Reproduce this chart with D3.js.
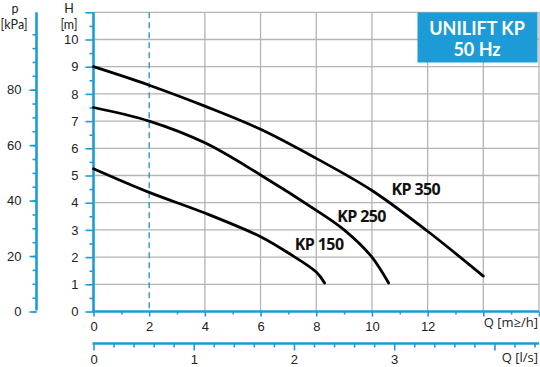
<!DOCTYPE html>
<html><head><meta charset="utf-8">
<script src="https://cdn.jsdelivr.net/npm/d3@7/dist/d3.min.js"></script>
<style>
html,body{margin:0;padding:0;background:#fff;}
svg{display:block;font-family:"Open Sans","Noto Sans",sans-serif;}
</style></head>
<body><svg id="c" width="540" height="367"></svg>
<script>
// ---- data ----
const seriesNames = ["KP 350", "KP 250", "KP 150"];
const q350 = [0, 2, 4, 6, 8, 10, 12, 14];
const h350 = [9.0, 8.32, 7.55, 6.7, 5.63, 4.45, 2.95, 1.3];
const q250 = [0, 2, 4, 6, 8, 9, 10, 10.6];
const h250 = [7.5, 7.0, 6.2, 5.02, 3.72, 3.0, 2.0, 1.05];
const q150 = [0, 2, 4, 6, 7, 8, 8.3];
const h150 = [5.25, 4.38, 3.62, 2.75, 2.15, 1.45, 1.05];
const labelAt = [[10.7, 4.28], [8.75, 3.29], [7.23, 2.25]]; // label anchor (Q, H)
const hTickLabels = [0,1,2,3,4,5,6,7,8,9,10];
const pTickLabels = [0,20,40,60,80];
const qTickLabels = [0,2,4,6,8,10,12];
const lsTickLabels = [0,1,2,3];
const title = ["UNILIFT KP", "50 Hz"];

const BLUE = "#1d9bd6";
const GRID = "#b4b4b4";
const TXT = "#222";

const svg = d3.select("#c");
const x = d3.scaleLinear().domain([0, 16]).range([93.5, 539]);
const y = d3.scaleLinear().domain([0, 11]).range([311.5, 12.3]);
const yP = d3.scaleLinear().domain([0, 11 * 9.81]).range([311.5, 12.3]);
const xL = d3.scaleLinear().domain([0, 16 / 3.6]).range([93.5, 539]);

// grid
const g = svg.append("g");
g.selectAll(".hg").data(d3.range(1, 12)).join("line")
  .attr("x1", x(0)).attr("x2", x(16)).attr("y1", d => y(d)).attr("y2", d => y(d))
  .attr("stroke", GRID).attr("stroke-width", 1.3);
g.selectAll(".vg").data(d3.range(4, 17, 2)).join("line")
  .attr("x1", d => x(d)).attr("x2", d => x(d)).attr("y1", y(11)).attr("y2", y(0))
  .attr("stroke", GRID).attr("stroke-width", 1.3);
g.append("line").attr("x1", x(2)).attr("x2", x(2)).attr("y1", y(11)).attr("y2", y(0))
  .attr("stroke", "#2f97c4").attr("stroke-width", 1.4).attr("stroke-dasharray", "6,4");

function styleAxis(sel, size) {
  sel.select(".domain").remove();
  sel.selectAll(".tick line").attr("stroke", BLUE).attr("stroke-width", 1.6);
  sel.selectAll(".tick text").attr("fill", TXT).style("font-size", size + "px");
}

// H axis
svg.append("g").attr("transform", `translate(${x(0)},0)`)
  .call(d3.axisLeft(y).tickValues(d3.range(0.5, 11, 1)).tickSize(4).tickFormat(""))
  .call(s => styleAxis(s, 13));
svg.append("g").attr("transform", `translate(${x(0)},0)`)
  .call(d3.axisLeft(y).tickValues(d3.range(0, 12)).tickSize(8).tickPadding(7)
    .tickFormat(d => hTickLabels.includes(d) ? d : ""))
  .call(s => styleAxis(s, 13));

// p axis
const pX = 36.5;
svg.append("g").attr("transform", `translate(${pX},0)`)
  .call(d3.axisLeft(yP).tickValues(d3.range(0, 101, 5)).tickSize(4).tickFormat(""))
  .call(s => styleAxis(s, 13));
svg.append("g").attr("transform", `translate(${pX},0)`)
  .call(d3.axisLeft(yP).tickValues(pTickLabels).tickSize(7).tickPadding(8))
  .call(s => styleAxis(s, 13));

// Q m3/h axis
svg.append("g").attr("transform", `translate(0,${y(0)})`)
  .call(d3.axisBottom(x).tickValues(d3.range(1, 17, 2)).tickSize(3).tickFormat(""))
  .call(s => styleAxis(s, 13));
svg.append("g").attr("transform", `translate(0,${y(0)})`)
  .call(d3.axisBottom(x).tickValues(d3.range(0, 17, 2)).tickSize(5).tickPadding(5)
    .tickFormat(d => qTickLabels.includes(d) ? d : ""))
  .call(s => styleAxis(s, 13));

// Q l/s axis
const lsY = 343.5;
svg.append("g").attr("transform", `translate(0,${lsY})`)
  .call(d3.axisBottom(xL).tickValues(d3.range(0, 4.41, 0.2).filter(v => Math.abs(v - Math.round(v)) > 0.01)).tickSize(4).tickFormat(""))
  .call(s => styleAxis(s, 13));
svg.append("g").attr("transform", `translate(0,${lsY})`)
  .call(d3.axisBottom(xL).tickValues([0, 1, 2, 3, 4]).tickSize(7).tickPadding(4)
    .tickFormat(d => lsTickLabels.includes(d) ? d : ""))
  .call(s => styleAxis(s, 13));

// axis lines
svg.append("line").attr("x1", x(0)).attr("x2", x(0)).attr("y1", y(11)).attr("y2", y(0) + 1)
  .attr("stroke", BLUE).attr("stroke-width", 2.6);
svg.append("line").attr("x1", pX).attr("x2", pX).attr("y1", y(11)).attr("y2", y(0) - 1)
  .attr("stroke", BLUE).attr("stroke-width", 2.6);
svg.append("line").attr("x1", x(0) - 1).attr("x2", x(16)).attr("y1", y(0)).attr("y2", y(0))
  .attr("stroke", BLUE).attr("stroke-width", 2.6);
svg.append("line").attr("x1", x(0) - 1).attr("x2", x(16)).attr("y1", lsY).attr("y2", lsY)
  .attr("stroke", BLUE).attr("stroke-width", 2.6);

// axis titles
const t = svg.append("g").attr("fill", TXT).style("font-size", "13px").attr("text-anchor", "middle");
const unitFont = "Lato, 'Open Sans', sans-serif";
t.append("text").attr("x", 15).attr("y", 13).style("font-family", unitFont).style("font-size", "12.5px").text("p");
t.append("text").attr("x", 14).attr("y", 28.5).style("font-family", unitFont).style("font-size", "12.5px").text("[kPa]");
t.append("text").attr("x", 69).attr("y", 13).style("font-family", unitFont).style("font-size", "12.5px").text("H");
t.append("text").attr("x", 69).attr("y", 28.5).style("font-family", unitFont).style("font-size", "12.5px").text("[m]");
t.append("text").attr("x", 538).attr("y", 327).attr("text-anchor", "end").text("Q [m≥/h]");
t.append("text").attr("x", 538).attr("y", 362).attr("text-anchor", "end").text("Q [l/s]");

// curves
const line = d3.line().x(d => x(d[0])).y(d => y(d[1])).curve(d3.curveCatmullRom.alpha(0.5));
const series = [d3.zip(q350, h350), d3.zip(q250, h250), d3.zip(q150, h150)];
svg.append("g").selectAll("path").data(series).join("path")
  .attr("d", line).attr("fill", "none").attr("stroke", "#000")
  .attr("stroke-width", 2.8).attr("stroke-linecap", "round");

svg.append("g").selectAll("text").data(seriesNames).join("text")
  .attr("x", (d, i) => x(labelAt[i][0])).attr("y", (d, i) => y(labelAt[i][1]))
  .attr("fill", "#111").style("font-size", "16px").style("font-weight", 700)
  .attr("letter-spacing", "-0.6")
  .text(d => d);

// title box
svg.append("rect").attr("x", 417.5).attr("y", 12.5).attr("width", 120).attr("height", 50)
  .attr("fill", BLUE);
svg.append("g").attr("fill", "#fff").style("font-family", "Lato, 'Open Sans', sans-serif")
  .style("font-size", "18px").style("font-weight", 700).attr("text-anchor", "middle")
  .selectAll("text").data(title).join("text")
  .attr("x", 477).attr("y", (d, i) => 35 + i * 21).text(d => d);
</script></body></html>
